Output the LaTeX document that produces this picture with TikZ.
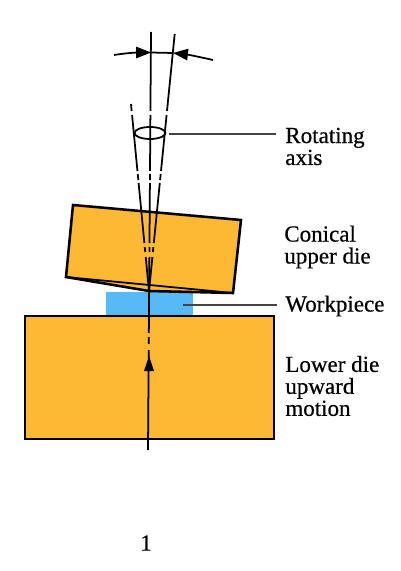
\documentclass[tikz,border=0pt]{standalone}
\usepackage{fontspec}
\setmainfont[FakeBold=0.5]{Liberation Serif}
\usetikzlibrary{arrows.meta, calc}
\definecolor{dieorange}{HTML}{FDB933}
\definecolor{workblue}{HTML}{57B9F6}
\definecolor{leadgray}{HTML}{444444}
\tikzset{
  diebox/.style={draw=black, line width=1.45pt, fill=dieorange, line join=miter},
  axisline/.style={draw=black, line width=1pt},
  leadline/.style={draw=leadgray, line width=0.8pt},
  partlabel/.style={anchor=west, align=left, inner sep=0pt, text=black, font=\fontsize{13.1}{12.5}\selectfont},
  anglearrow/.style={-{Triangle[length=8.5pt, width=6.5pt]}, line width=1pt},
}

\begin{document}
\begin{tikzpicture}[x=0.02cm, y=-0.02cm]
  \useasboundingbox (0,0) rectangle (400,571);

  \coordinate (apex) at (149,291);
  \coordinate (axistop) at (151,32);
  \coordinate (axisbot) at (148,450);
  \coordinate (righttop) at (174.7,34);
  \coordinate (lefttop) at (131,104);

  % dies and workpiece
  \fill[workblue] (106,292) rectangle (193,316);
  \node[diebox, rectangle, minimum width=0.02cm*249, minimum height=0.02cm*123, inner sep=0pt] (lowerdie) at (149.5,377.5) {};
  \coordinate (dieA) at (73,205);
  \coordinate (dieB) at (241,220);
  \coordinate (dieC) at (233,293);
  \coordinate (dieD) at (66,277);
  \draw[diebox] (dieA) -- (dieB) -- (dieC) -- (apex) -- (dieD) -- cycle;
  \draw[line width=1pt] (dieD) -- (dieC);

  % centre line and cone lines
  \foreach \ya/\yb in {32/111, 115/171, 174/180, 183/243, 247/252, 257/333, 337/344, 350/450}
    \draw[axisline] ($(axistop)!{(\ya-32)/418}!(axisbot)$) -- ($(axistop)!{(\yb-32)/418}!(axisbot)$);
  \foreach \ya/\yb in {34/111, 115/171, 174/180, 183/243, 247/252, 257/291}
    \draw[axisline] ($(righttop)!{(\ya-34)/257}!(apex)$) -- ($(righttop)!{(\yb-34)/257}!(apex)$);
  \foreach \ya/\yb in {104/111, 115/171, 174/180, 183/243, 247/252, 257/291}
    \draw[axisline] ($(lefttop)!{(\ya-104)/187}!(apex)$) -- ($(lefttop)!{(\yb-104)/187}!(apex)$);
  \draw[axisline] (150,133) ellipse (15.5 and 6);

  % upward motion
  \fill[black] (149,356) -- (154,371) -- (144,371) -- cycle;

  % cone angle
  \coordinate (tipL) at (151,52.5);
  \coordinate (tipR) at (173,53);
  \draw[anglearrow] (114,55) .. controls (126,53) and (138,52.5) .. (tipL);
  \draw[anglearrow] (213,60) .. controls (200,57) and (187,54.5) .. (tipR);
  \draw[line width=1pt] (tipL) -- (tipR);

  % labels
  \node[partlabel] (rotating) at (285,146.5) {Rotating\\axis};
  \node[partlabel] (conical) at (284,247) {Conical\\upper die};
  \node[partlabel] (workpiece) at (285,306) {Workpiece};
  \node[partlabel] (lowerlabel) at (285,386) {Lower die\\upward\\motion};
  \node[partlabel, anchor=center] (fignum) at (146,543) {1};

  \coordinate (rotlead) at (169,134);
  \coordinate (worklead) at (183,305);
  \draw[leadline] (rotlead) -- ([xshift=-0.18cm]rotlead -| rotating.west);
  \draw[leadline] (worklead) -- ([xshift=-0.16cm]worklead -| workpiece.west);
\end{tikzpicture}
\end{document}
